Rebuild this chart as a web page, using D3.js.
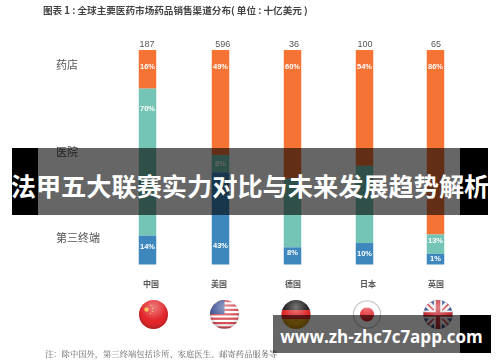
<!DOCTYPE html>
<html lang="zh">
<head>
    <meta charset="UTF-8">
    <title>图表 1</title>
    <script src="https://cdn.jsdelivr.net/npm/d3@7/dist/d3.min.js"></script>
    <style>
        html, body { margin: 0; padding: 0; background: #fff; }
        svg { display: block; font-family: "Noto Sans CJK SC", sans-serif; }
    </style>
</head>
<body>
<script type="text/javascript">
    const countries = ["中国", "美国", "德国", "日本", "英国"];
    const totals = [187, 596, 36, 100, 65];
    const channels = ["药店", "医院", "第三终端"];
    // 图上量出来的柱高比例，和印刷的百分比不完全一致
    const pharmacyShare = [18, 49, 60, 54, 86];
    const hospitalShare = [68.5, 8, 32, 36, 9];
    const terminalShare = [13.5, 43, 8, 10, 5];
    // 印刷的百分比，德国和日本的医院比例被横幅盖住了
    const pharmacyLabels = ["16%", "49%", "60%", "54%", "86%"];
    const hospitalLabels = ["70%", "8%", "", "", "13%"];
    const terminalLabels = ["14%", "43%", "8%", "10%", "1%"];
    const channelColors = ["#f47335", "#74c5b6", "#3d87bd"];
    const titleText = "图表 1 : 全球主要医药市场药品销售渠道分布( 单位 : 十亿美元 )";
    const noteText = "注：除中国外，第三终端包括诊所、家庭医生、邮寄药品服务等";
    const bannerText = "法甲五大联赛实力对比与未来发展趋势解析";
    const urlText = "www.zh-zhc7c7app.com";

    let width = 500,
        height = 362,
        barWidth = 17.5,
        flagR = 14.5;

    let svg = d3.select("body").append("svg")
        .attr("width", width)
        .attr("height", height);

    let defs = svg.append("defs");
    defs.append("filter").attr("id", "soft")
        .append("feGaussianBlur").attr("stdDeviation", 0.45);
    let shade = defs.append("radialGradient").attr("id", "ball")
        .attr("cx", "50%").attr("cy", "42%").attr("r", "58%");
    shade.append("stop").attr("offset", "70%").attr("stop-color", "#000").attr("stop-opacity", 0);
    shade.append("stop").attr("offset", "100%").attr("stop-color", "#000").attr("stop-opacity", 0.22);
    let shine = defs.append("radialGradient").attr("id", "shine")
        .attr("cx", "50%").attr("cy", "25%").attr("r", "45%");
    shine.append("stop").attr("offset", "0%").attr("stop-color", "#fff").attr("stop-opacity", 0.4);
    shine.append("stop").attr("offset", "100%").attr("stop-color", "#fff").attr("stop-opacity", 0);

    let chart = svg.append("g").attr("filter", "url(#soft)");

    // 原图各列并不等距，所以用序数比例尺
    let x = d3.scaleOrdinal().domain(countries).range([147.5, 220.5, 292.5, 364.5, 435.5]);
    let totalX = d3.scaleOrdinal().domain(countries).range([147, 222.7, 294, 365, 436]);
    let labelX = d3.scaleOrdinal().domain(countries).range([151, 219, 293, 368, 436]);
    let flagX = d3.scaleOrdinal().domain(countries).range([153.5, 224.5, 296, 367, 438]);
    let y = d3.scaleLinear().domain([0, 100]).range([50, 264.5]);

    // 标题和注释
    chart.append("text")
        .attr("x", 43).attr("y", 14)
        .attr("font-size", 9.6).attr("font-weight", 700).attr("fill", "#444")
        .text(titleText);
    chart.append("text")
        .attr("x", 45).attr("y", 357)
        .attr("font-size", 8.3).attr("fill", "#666")
        .style("font-family", "'Noto Serif CJK SC', 'Noto Sans CJK SC', serif")
        .text(noteText);

    // 左侧渠道名
    let channelY = d3.scalePoint().domain(channels).range([65, 238]);
    chart.selectAll("text.channel").data(channels).enter().append("text")
        .attr("class", "channel")
        .attr("x", 56)
        .attr("y", d => channelY(d) + 4)
        .attr("font-size", 11).attr("fill", "#555")
        .text(d => d);

    // 堆叠柱
    let rows = countries.map((c, i) => ({
        country: c,
        parts: [pharmacyShare[i], hospitalShare[i], terminalShare[i]],
        labels: [pharmacyLabels[i], hospitalLabels[i], terminalLabels[i]]
    }));
    let labelY = [
        [66, 108, 246],
        [66, 163, 245],
        [66, 190, 252],
        [66, 190, 253],
        [66, 240, 258]
    ];

    let bars = chart.selectAll("g.bar").data(rows).enter().append("g").attr("class", "bar");
    bars.each(function (row, i) {
        let g = d3.select(this);
        let start = 0;
        row.parts.forEach((p, j) => {
            g.append("rect")
                .attr("x", x(row.country) - barWidth / 2)
                .attr("y", y(start))
                .attr("width", barWidth)
                .attr("height", y(start + p) - y(start))
                .attr("fill", channelColors[j]);
            start += p;
            if (!row.labels[j]) return;
            g.append("text")
                .attr("x", x(row.country))
                .attr("y", labelY[i][j] + 2.5)
                .attr("text-anchor", "middle")
                .attr("font-size", 7.5).attr("font-weight", 700).attr("fill", "#fff")
                .style("font-family", "'Liberation Sans', sans-serif")
                .text(row.labels[j]);
        });
    });

    // 柱顶总额
    chart.selectAll("text.total").data(totals).enter().append("text")
        .attr("class", "total")
        .attr("x", (d, i) => totalX(countries[i]))
        .attr("y", 46.5)
        .attr("text-anchor", "middle")
        .attr("font-size", 9).attr("fill", "#555")
        .style("font-family", "'Liberation Sans', sans-serif")
        .text(d => d);

    // 国家名
    chart.selectAll("text.country").data(countries).enter().append("text")
        .attr("class", "country")
        .attr("x", d => labelX(d))
        .attr("y", 286.5)
        .attr("text-anchor", "middle")
        .attr("font-size", 8).attr("font-weight", 700).attr("fill", "#555")
        .text(d => d);

    // 国旗
    let flagY = 314.5;
    let flagDraw = {
        "中国": function (g) {
            g.append("rect").attr("x", -15).attr("y", -15).attr("width", 30).attr("height", 30).attr("fill", "#e2282c");
            g.append("circle").attr("cx", -7).attr("cy", -5).attr("r", 2.2).attr("fill", "#f0b83c");
            [[-2.5, -9], [-1, -6], [-1, -3], [-3, -1]].forEach(s => {
                g.append("circle").attr("cx", s[0]).attr("cy", s[1]).attr("r", 0.7).attr("fill", "#eeb03c");
            });
        },
        "美国": function (g) {
            g.append("rect").attr("x", -15).attr("y", -15).attr("width", 30).attr("height", 30).attr("fill", "#fff");
            d3.range(7).forEach(k => {
                g.append("rect").attr("x", -15).attr("y", -14.5 + k * 4.4).attr("width", 30).attr("height", 2.2).attr("fill", "#d8505a");
            });
            g.append("rect").attr("x", -15).attr("y", -15).attr("width", 15).attr("height", 14.5).attr("fill", "#4a5f9e");
        },
        "德国": function (g) {
            g.append("rect").attr("x", -15).attr("y", -15).attr("width", 30).attr("height", 10.5).attr("fill", "#1c1c1c");
            g.append("rect").attr("x", -15).attr("y", -4.5).attr("width", 30).attr("height", 9).attr("fill", "#e0292b");
            g.append("rect").attr("x", -15).attr("y", 4.5).attr("width", 30).attr("height", 11).attr("fill", "#e8a818");
        },
        "日本": function (g) {
            g.append("rect").attr("x", -15).attr("y", -15).attr("width", 30).attr("height", 30).attr("fill", "#fff");
            g.append("circle").attr("r", 13.7).attr("fill", "none").attr("stroke", "#c8c8c8").attr("stroke-width", 1.4);
            g.append("circle").attr("r", 7).attr("fill", "#e3242b");
        },
        "英国": function (g) {
            g.append("rect").attr("x", -15).attr("y", -15).attr("width", 30).attr("height", 30).attr("fill", "#3a5796");
            g.append("path").attr("d", "M-15,-15L15,15M15,-15L-15,15").attr("stroke", "#f4f0f0").attr("stroke-width", 7);
            g.append("path").attr("d", "M-15,-15L15,15M15,-15L-15,15").attr("stroke", "#d0444c").attr("stroke-width", 1.6);
            g.append("path").attr("d", "M0,-15V15M-15,0H15").attr("stroke", "#f4f0f0").attr("stroke-width", 8);
            g.append("path").attr("d", "M0,-15V15M-15,0H15").attr("stroke", "#c8303a").attr("stroke-width", 4.5);
        }
    };
    countries.forEach((c, i) => {
        defs.append("clipPath").attr("id", "flag" + i)
            .append("circle").attr("r", flagR);
        let g = chart.append("g")
            .attr("transform", "translate(" + flagX(c) + "," + flagY + ")");
        let inner = g.append("g").attr("clip-path", "url(#flag" + i + ")");
        flagDraw[c](inner);
        if (c !== "日本") g.append("circle").attr("r", flagR).attr("fill", "url(#ball)");
        g.append("circle").attr("r", flagR).attr("fill", "url(#shine)");
    });

    // 上面盖的两条横幅，中间半透明，两端纯黑
    let overlay = svg.append("g");
    overlay.append("rect").attr("x", 12).attr("y", 148).attr("width", 26).attr("height", 67).attr("fill", "#000");
    overlay.append("rect").attr("x", 460).attr("y", 148).attr("width", 28).attr("height", 67).attr("fill", "#000");
    overlay.append("rect").attr("x", 38).attr("y", 148).attr("width", 422).attr("height", 67).attr("fill", "#000").attr("fill-opacity", 0.6);
    overlay.append("text")
        .attr("x", 250).attr("y", 196)
        .attr("text-anchor", "middle")
        .attr("font-size", 25.2).attr("font-weight", 700).attr("fill", "#fff")
        .text(bannerText);
    overlay.append("rect").attr("x", 273).attr("y", 315).attr("width", 187).attr("height", 38).attr("fill", "#000").attr("fill-opacity", 0.6);
    overlay.append("rect").attr("x", 460).attr("y", 315).attr("width", 31).attr("height", 38).attr("fill", "#000");
    overlay.append("text")
        .attr("x", 381.5).attr("y", 343)
        .attr("text-anchor", "middle")
        .attr("font-size", 17).attr("font-weight", 700).attr("fill", "#fff")
        .style("font-family", "'Open Sans', sans-serif")
        .text(urlText);
</script>
</body>
</html>
